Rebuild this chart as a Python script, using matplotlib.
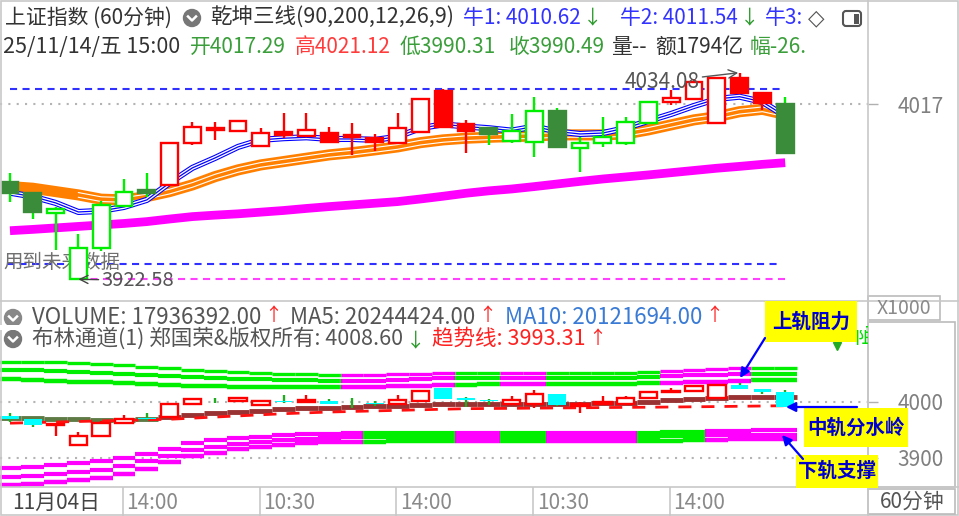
import matplotlib
matplotlib.use("Agg")
import matplotlib.pyplot as plt
import matplotlib.transforms as mtransforms
from matplotlib.patches import Rectangle, Circle, FancyBboxPatch

plt.rcParams['font.family'] = ['Noto Sans CJK SC', 'DejaVu Sans']
plt.rcParams['axes.unicode_minus'] = False

# ---------------- data ----------------
opens = [3975.3, 3969.0, 3958.2, 3922.58, 3939.3, 3962.3, 3970.8, 3973.5, 3996.0, 4004.1,
         4002.6, 3994.5, 4002.2, 4000.0, 4001.4, 4000.5, 3998.7, 3996.0, 4002.2, 4024.4,
         4006.4, 4004.1, 3997.2, 3996.5, 4013.6, 3993.3, 3996.0, 3996.0, 4006.8, 4018.4,
         4019.7, 4007.1, 4031.1, 4023.0, 4017.29]
highs = [3980.1, 3969.9, 3961.8, 3947.0, 3965.0, 3976.5, 3980.1, 3996.8, 4007.6, 4007.6,
         4008.5, 4004.1, 4012.5, 4012.5, 4004.9, 4006.8, 4001.0, 4012.5, 4020.3, 4025.1,
         4008.5, 4004.9, 4011.6, 4020.8, 4015.2, 3999.2, 4010.3, 4010.3, 4018.9, 4024.7,
         4030.5, 4032.0, 4034.08, 4023.8, 4021.12]
lows = [3964.5, 3955.0, 3938.4, 3922.58, 3938.0, 3961.8, 3967.2, 3972.9, 3995.1, 3997.8,
        4002.2, 3993.8, 3998.7, 3999.5, 3996.8, 3989.7, 3992.0, 3996.0, 4001.7, 4004.9,
        3990.9, 3995.1, 3996.3, 3988.4, 3993.3, 3980.7, 3993.8, 3995.1, 4006.4, 4016.6,
        4019.3, 4007.1, 4023.0, 4014.0, 3990.31]
closes = [3969.3, 3959.1, 3960.4, 3939.6, 3962.7, 3969.9, 3969.3, 3996.0, 4004.9, 4003.2,
          4008.0, 4001.7, 4000.5, 4003.2, 3996.8, 3999.2, 3996.8, 4004.1, 4019.7, 4004.9,
          4002.8, 4001.0, 4002.8, 4013.6, 3993.8, 3996.3, 3999.5, 4007.6, 4018.4, 4020.3,
          4029.2, 4031.1, 4023.0, 4017.6, 3990.49]
# 1 = red (bull) regime, 0 = green regime of the 乾坤三线 indicator
trend = [0, 0, 0, 0, 0, 0, 0, 1, 1, 1, 1, 1, 1, 1, 1, 1, 1, 1, 1, 1,
         1, 0, 0, 0, 0, 0, 0, 0, 0, 1, 1, 1, 1, 1, 0]

bull1 = [3969.3, 3967.2, 3963.8, 3958.9, 3959.5, 3961.6, 3965.4, 3974.6, 3982.7, 3988.1,
         3994.0, 3997.8, 3998.7, 3999.2, 3998.3, 3998.3, 3997.8, 3999.5, 4004.1, 4006.2,
         4005.0, 4004.1, 4002.8, 4005.0, 4002.3, 4001.0, 4001.5, 4004.2, 4008.0, 4011.8,
         4016.1, 4019.9, 4021.1, 4018.3, 4010.62]
bull2 = [3972.6, 3971.7, 3969.9, 3968.1, 3965.8, 3965.4, 3967.2, 3969.9, 3973.5, 3978.0,
         3981.6, 3984.3, 3986.1, 3987.9, 3989.7, 3990.9, 3992.4, 3994.0, 3996.3, 3997.8,
         3998.7, 3999.2, 3999.6, 3999.9, 4000.5, 4000.5, 4000.5, 4001.0, 4003.2, 4005.9,
         4008.6, 4010.3, 4013.0, 4014.3, 4011.54]
bull3 = [3948.8, 3949.5, 3950.3, 3951.1, 3951.9, 3952.7, 3953.7, 3955.1, 3956.4, 3957.2,
         3957.9, 3958.8, 3959.7, 3960.8, 3961.8, 3962.7, 3963.6, 3964.5, 3965.9, 3967.4,
         3969.0, 3970.3, 3971.3, 3972.6, 3974.0, 3975.4, 3976.7, 3977.8, 3978.9, 3980.1,
         3981.3, 3982.5, 3983.5, 3984.6, 3985.5]
box_top = 4025.3
box_bottom = 3930.8
main_ticks = [4017]

# 布林通道 panel
up_a = [4072.4, 4071.8, 4070.9, 4070.0, 4068.2, 4066.4, 4063.7, 4061.0, 4058.3, 4055.7,
        4053.0, 4051.2, 4050.3, 4049.4, 4048.5, 4048.5, 4048.5, 4049.4, 4050.3, 4051.2,
        4052.1, 4052.1, 4052.1, 4052.1, 4052.1, 4052.1, 4052.1, 4052.1, 4053.9, 4055.7,
        4057.5, 4059.2, 4061.0, 4061.9, 4061.0]
up_b = [4057.5, 4056.6, 4055.7, 4053.9, 4052.1, 4050.3, 4048.5, 4046.7, 4044.9, 4043.1,
        4041.3, 4040.4, 4039.5, 4038.6, 4037.7, 4037.7, 4037.7, 4039.5, 4041.3, 4042.2,
        4043.1, 4043.1, 4043.1, 4043.1, 4043.1, 4043.1, 4043.1, 4043.1, 4044.0, 4045.8,
        4047.6, 4048.5, 4049.4, 4050.3, 4050.3]
up_c = [4040.8, 4039.5, 4037.7, 4035.9, 4035.0, 4034.1, 4032.3, 4030.5, 4029.6, 4028.7,
        4027.8, 4026.9, 4026.9, 4026.9, 4026.9, 4026.9, 4027.8, 4028.7, 4029.6, 4030.5,
        4031.4, 4032.3, 4032.3, 4032.3, 4032.3, 4032.3, 4032.3, 4032.3, 4033.2, 4034.1,
        4035.0, 4035.9, 4037.7, 4038.6, 4039.5]
lo_a = [3881.5, 3884.2, 3886.9, 3889.6, 3893.2, 3899.5, 3907.5, 3916.5, 3925.5, 3930.9,
        3934.5, 3937.2, 3939.9, 3941.7, 3943.4, 3944.3, 3944.3, 3945.2, 3945.2, 3945.2,
        3945.2, 3945.2, 3945.2, 3945.2, 3945.2, 3945.2, 3945.2, 3945.2, 3945.2, 3946.1,
        3947.0, 3947.9, 3948.8, 3949.7, 3949.7]
lo_b = [3865.4, 3868.0, 3870.7, 3874.3, 3877.9, 3885.1, 3894.1, 3903.9, 3913.8, 3920.1,
        3924.6, 3928.2, 3930.9, 3933.6, 3935.4, 3936.3, 3937.2, 3937.2, 3937.2, 3937.2,
        3937.2, 3937.2, 3937.2, 3937.2, 3937.2, 3937.2, 3937.2, 3937.2, 3937.2, 3938.1,
        3939.0, 3939.9, 3940.8, 3940.8, 3940.8]
lo_c = [3850.1, 3852.8, 3856.4, 3860.0, 3863.6, 3870.7, 3880.6, 3891.4, 3902.2, 3909.3,
        3915.6, 3919.2, 3922.8, 3925.5, 3927.3, 3928.2, 3928.2, 3929.1, 3929.1, 3929.1,
        3929.1, 3929.1, 3929.1, 3929.1, 3929.1, 3929.1, 3929.1, 3929.1, 3929.1, 3930.0,
        3930.9, 3931.8, 3932.7, 3932.7, 3932.7]
mid = [3971.3, 3970.4, 3969.5, 3968.6, 3967.7, 3967.7, 3968.6, 3973.1, 3976.7, 3979.4,
       3982.1, 3984.7, 3987.4, 3989.2, 3990.1, 3991.0, 3992.8, 3993.7, 3994.6, 3995.5,
       3995.5, 3995.5, 3996.4, 3996.4, 3996.4, 3996.4, 3997.3, 3998.2, 4000.0, 4002.7,
       4005.4, 4007.2, 4009.0, 4008.8, 4008.6]
trend_line = [3962.0, 3963.0, 3964.0, 3965.0, 3966.0, 3967.0, 3968.0, 3969.0, 3971.0, 3973.0,
              3975.0, 3977.0, 3979.0, 3980.5, 3982.0, 3983.0, 3984.0, 3985.0, 3986.0, 3987.0,
              3988.0, 3988.3, 3988.6, 3989.0, 3989.3, 3989.6, 3990.0, 3990.3, 3990.6, 3991.0,
              3991.4, 3991.8, 3992.3, 3992.8, 3993.31]
upper_state = [0, 0, 0, 0, 0, 0, 0, 0, 0, 0, 0, 0, 0, 0, 0, 1, 1, 1, 1, 1,
               0, 0, 1, 1, 0, 0, 0, 0, 0, 1, 1, 1, 1, 0, 0]
lower_state = [1, 1, 1, 1, 1, 1, 1, 1, 1, 1, 1, 1, 1, 1, 1, 1, 0, 0, 0, 0,
               1, 1, 0, 0, 1, 1, 1, 1, 0, 0, 0, 1, 1, 1, 1]
mid_state = [0, 0, 0, 0, 0, 0, 0, 1, 1, 1, 1, 1, 1, 1, 1, 1, 1, 1, 1, 1,
             1, 1, 1, 1, 1, 1, 1, 1, 1, 1, 1, 1, 1, 1, 1]
low_ticks = [3900, 4000]

date_pos = [0, 5, 11, 17, 23, 29]
date_labels = ["11月04日", "14:00", "10:30", "14:00", "10:30", "14:00"]

# ---------------- layout ----------------
W, H = 959, 516
STEP = 22.8
X0 = 10

RED = '#ff0000'
GREEN = '#00ee00'
DKGREEN = '#3a8c3a'
BLUE = '#0000ff'
ORANGE = '#ff8000'
MAG = '#ff00ff'
CYAN = '#00ffff'
GRID = '#c8c8c8'


def rect(x0, y0, x1, y1):
    return [x0 / W, 1 - y1 / H, (x1 - x0) / W, (y1 - y0) / H]


def idx(px):
    return (px - X0) / STEP


fig = plt.figure(figsize=(W / 100, H / 100), dpi=100)
fig.patch.set_facecolor('white')
renderer = fig.canvas.get_renderer()

ax = fig.add_axes(rect(0, 2, 868, 300))
axl = fig.add_axes(rect(0, 302, 868, 487))
axd = fig.add_axes(rect(0, 487, 868, 516))
ov = fig.add_axes([0, 0, 1, 1])
ov.set_xlim(0, W)
ov.set_ylim(H, 0)
ov.axis('off')
ov.patch.set_visible(False)
ov.set_zorder(10)

for a in (ax, axl, axd):
    a.set_xlim(idx(0), idx(868))
    a.set_facecolor('white')
    for s in a.spines.values():
        s.set_visible(False)
    a.set_xticks([])

ax.set_ylim(3911.4, 4072.2)
axl.set_ylim(3847.4, 4179.5)
axd.set_ylim(0, 1)
axd.set_yticks([])

xs = list(range(len(closes)))

# ---------------- main panel ----------------
ax.plot(xs, bull3, color=MAG, lw=6.3, solid_capstyle='butt', zorder=1)
ax.plot(xs, bull2, color=ORANGE, lw=8, solid_capstyle='butt', zorder=2)
for dy in (-1.7, 1.7):
    tr = mtransforms.offset_copy(ax.transData, fig=fig, x=0, y=dy, units='points')
    ax.plot(xs[3:], bull2[3:], color='white', lw=0.8, transform=tr, zorder=2.1)
ax.plot(xs, bull1, color=BLUE, lw=4.4, solid_capstyle='butt', zorder=3)
ax.plot(xs, bull1, color='white', lw=2.8, zorder=3.1)
ax.plot(xs, bull1, color=BLUE, lw=0.9, zorder=3.2)

dash = (0, (3.4, 2.6))
ax.hlines(box_top, 0, xs[-1] - 0.2, colors='#3030ff', lw=1.5, linestyles=[dash], zorder=1.5)
ax.hlines(box_bottom, -0.15, xs[-1] - 0.2, colors='#3030ff', lw=1.5, linestyles=[dash], zorder=1.5)
i_low = lows.index(min(lows))
ax.hlines(min(lows), i_low, xs[-1], colors='#ff40ff', lw=1.5, linestyles=[dash], zorder=1.5)
for t in main_ticks:
    ax.axhline(t, color='#b4b4b4', lw=1.5, ls=(0, (1, 3)), zorder=0.5)

bw = 0.74
for i in xs:
    o, h, l, c = opens[i], highs[i], lows[i], closes[i]
    up = c >= o
    if trend[i]:
        wick, edge, face = RED, RED, ('white' if up else RED)
    else:
        wick = GREEN
        edge = GREEN if up else DKGREEN
        face = 'white' if up else DKGREEN
    ax.vlines(i, l, h, colors=wick, lw=1.7, zorder=5)
    ax.add_patch(Rectangle((i - bw / 2, min(o, c)), bw, max(abs(c - o), 0.4),
                           facecolor=face, edgecolor=edge, lw=1.7, zorder=6))

ax.yaxis.tick_right()
ax.set_yticks(main_ticks)
ax.set_yticklabels([str(t) for t in main_ticks])

i_high = highs.index(max(highs))
ax.annotate(f"{max(highs):.2f}", xy=(i_high, max(highs)), xytext=(-40, -9),
            textcoords='offset pixels', ha='right', va='center', fontsize=15,
            color='#555555', zorder=8,
            arrowprops=dict(arrowstyle='->', color='#555555', lw=1, shrinkA=0, shrinkB=1))
ax.annotate(f"{min(lows):.2f}", xy=(i_low, min(lows)), xytext=(23, -1),
            textcoords='offset pixels', ha='left', va='center', fontsize=14.5,
            color='#555555', zorder=8,
            arrowprops=dict(arrowstyle='->', color='#444444', lw=1, shrinkA=0, shrinkB=0))
ax.text(3, 262, "用到未来数据", transform=ov.transData, ha='left', va='center',
        fontsize=14, color='#707070', zorder=4, clip_on=False)

# ---------------- Bollinger panel ----------------
lefts = [i - 0.5 for i in xs]
rights = [i + 0.5 for i in xs]


def band(vals, states, lw):
    cols = [MAG if s else GREEN for s in states]
    lc = axl.hlines(vals, lefts, rights, colors=cols, lw=lw, zorder=1)
    lc.set_capstyle('butt')


band(up_a, upper_state, 2.4)
band(up_b, upper_state, 3.0)
band(up_c, upper_state, 3.2)
band(lo_a, lower_state, 3.0)
band(lo_b, lower_state, 3.0)
band(lo_c, lower_state, 3.2)

mid_cols = ['#993333' if s else '#5e7a45' for s in mid_state]
lc = axl.hlines(mid, lefts, rights, colors=mid_cols, lw=3.5, zorder=2)
lc.set_capstyle('butt')
axl.plot(xs, trend_line, color='#ff1010', lw=2, ls=(0, (4.7, 3.6)), zorder=3)

for t in low_ticks:
    axl.axhline(t, color='#b4b4b4', lw=1.5, ls=(0, (1, 3)), zorder=0.5)

bwl = 0.78
for i in xs:
    o, h, l, c = opens[i], highs[i], lows[i], closes[i]
    if c >= o:
        axl.vlines(i, l, h, colors=RED, lw=1.7, zorder=5)
        axl.add_patch(Rectangle((i - bwl / 2, o), bwl, max(c - o, 0.8), facecolor='white',
                                edgecolor=RED, lw=1.7, zorder=6))
    else:
        axl.vlines(i, l, h, colors='#22aa22', lw=1.7, zorder=5)
        axl.add_patch(Rectangle((i - bwl / 2, c), bwl, max(o - c, 1.2), facecolor=CYAN,
                                edgecolor='none', zorder=6))

axl.yaxis.tick_right()
axl.set_yticks(low_ticks)
axl.set_yticklabels([str(t) for t in low_ticks])

for a in (ax, axl):
    a.tick_params(axis='y', length=7, width=1, color='#b0b0b0', pad=14,
                  labelsize=15, labelcolor='#808080')

# ---------------- date strip ----------------
for p, lab in zip(date_pos, date_labels):
    if p > 0:
        axd.vlines(p - 0.05, 0, 1, colors=GRID, lw=1.2)
    axd.text(p + 0.1, 0.45, lab, ha='left', va='center', fontsize=15,
             color='#444444' if p == 0 else '#8a8a8a')

# ---------------- frame & right-side boxes ----------------
ov.plot([868, 868], [0, H], color=GRID, lw=1.2)
ov.plot([0, W], [301, 301], color=GRID, lw=1.2)
ov.plot([0, W], [487, 487], color=GRID, lw=1.2)
ov.add_patch(Rectangle((0.6, 0.6), W - 1.2, H - 1.2, fill=False, ec=GRID, lw=1.2))
ov.add_patch(Rectangle((868, 296), 72, 24, fill=False, ec='#bbbbbb', lw=1.2))
ov.add_patch(Rectangle((868, 322), 87, 165, fill=False, ec='#bbbbbb', lw=1.2))
ov.add_patch(Rectangle((868, 489), 87, 25, fill=False, ec='#bbbbbb', lw=1.2))
ov.text(904, 308, "X1000", ha='center', va='center', fontsize=14, color='#8a8a8a')
ov.text(912, 502, "60分钟", ha='center', va='center', fontsize=15, color='#555555')


def chevron(x, y, r=8.5, col='#777777'):
    ov.add_patch(Circle((x, y), r, color=col, zorder=11))
    ov.plot([x - 4, x, x + 4], [y - 1.5, y + 2.5, y - 1.5], color='white', lw=1.8, zorder=12)


def seg(x, y, s, col, size=15.5, **kw):
    return ov.text(x, y, s, ha='left', va='center', fontsize=size, color=col, zorder=12, **kw)


def after(t, gap=2):
    # x (overlay pixels) just to the right of a drawn text
    bb = t.get_window_extent(renderer)
    return ov.transData.inverted().transform((bb.x1, bb.y0))[0] + gap


# header, line 1
seg(5, 18, "上证指数 (60分钟)", '#333333', size=15)
chevron(192, 18)
seg(210, 18, "乾坤三线(90,200,12,26,9)", '#333333')
t = seg(463, 18, f"牛1: {bull1[-1]:.2f}", '#3333ff', size=15)
seg(after(t), 18, "↓", '#2a9a2a', size=14)
t = seg(620, 18, f"牛2: {bull2[-1]:.2f}", '#3333ff', size=15)
seg(after(t), 18, "↓", '#2a9a2a', size=14)
seg(765, 18, "牛3:", '#3333ff', size=15)
seg(808, 18, "◇", '#555555', family=['DejaVu Sans'])
ov.add_patch(FancyBboxPatch((843, 11), 18, 15, boxstyle='round,pad=0,rounding_size=3',
                            fc='white', ec='#555555', lw=1.5, zorder=12))
ov.add_patch(Rectangle((854, 13.5), 5, 10, fc='#555555', ec='none', zorder=13))

# header, line 2
seg(3, 47, "25/11/14/五 15:00", '#333333')
seg(190, 47, f"开{opens[-1]:.2f}", '#3a9e3a', size=15)
seg(295, 47, f"高{highs[-1]:.2f}", '#ff3c3c', size=15)
seg(400, 47, f"低{lows[-1]:.2f}", '#3a9e3a', size=15)
seg(509, 47, f"收{closes[-1]:.2f}", '#3a9e3a', size=15)
seg(611, 47, "量--", '#333333', size=15)
seg(655, 47, "额1794亿", '#333333', size=15)
seg(750, 47, "幅-26.", '#3a9e3a', size=15)

# lower panel header
chevron(13, 318, col='#888888')
t = seg(32, 318, "VOLUME: 17936392.00", '#555555', size=16)
seg(after(t, 3), 316, "↑", '#ff2020', size=13)
t = seg(290, 318, "MA5: 20244424.00", '#555555', size=16)
seg(after(t, 3), 316, "↑", '#ff2020', size=13)
t = seg(505, 318, "MA10: 20121694.00", '#3a7bd5', size=16)
seg(after(t, 3), 316, "↑", '#ff2020', size=13)
ov.add_patch(Rectangle((0, 325), 866, 4.5, fc='white', ec='none', zorder=12.5))
chevron(13, 339)
t = seg(32, 339, f"布林通道(1) 郑国荣&版权所有: {mid[-1]:.2f}", '#555555', size=15.5)
t.set_zorder(13)
seg(after(t, 3), 341, "↓", '#2a9a2a', size=14).set_zorder(13)
t = seg(432, 339, f"趋势线: {trend_line[-1]:.2f}", '#ff2020', size=15.5)
t.set_zorder(13)
seg(after(t, 3), 339, "↑", '#ff2020', size=13).set_zorder(13)
ov.plot([836.5], [346], marker='v', color='#22aa22', ms=6, zorder=12)
t = seg(854, 337, "阻", '#00dd00')
t.set_clip_box(axl.bbox)
t.set_clip_on(True)

# ---------------- call-outs ----------------


def callout(x0, y0, x1, y1, text):
    ov.add_patch(Rectangle((x0, y0), x1 - x0, y1 - y0, fc='#ffff00', ec='none', zorder=20))
    ov.text((x0 + x1) / 2, (y0 + y1) / 2, text, ha='center', va='center', fontsize=14,
            fontweight='bold', color='#0000cc', zorder=21)


def arrow(x0, y0, x1, y1):
    ov.annotate('', xy=(x1, y1), xytext=(x0, y0), zorder=22,
                arrowprops=dict(arrowstyle='-|>', color='#0000ff', lw=1.6,
                                mutation_scale=14, shrinkA=0, shrinkB=0))


callout(765, 301, 857, 342, "上轨阻力")
callout(804, 408, 908, 447, "中轨分水岭")
callout(796, 455, 878, 488, "下轨支撑")
arrow(765, 338, 740, 378)
arrow(857, 407, 786, 407)
arrow(803, 459, 782, 435)

fig.savefig("out.png", dpi=100, facecolor='white')
